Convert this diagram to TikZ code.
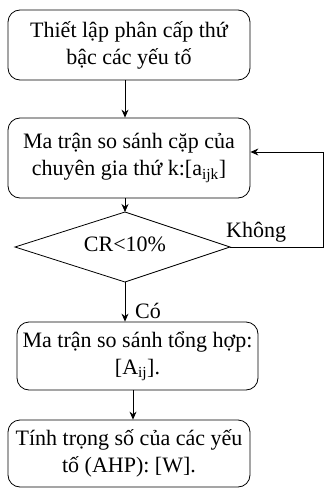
\documentclass[tikz,border=0pt]{standalone}
\usepackage{fontspec}
\setmainfont{Liberation Serif}
\usetikzlibrary{arrows.meta,shapes.geometric}
\begin{document}
\begin{tikzpicture}[x=1pt,y=-1pt,
  box/.style={draw,rounded corners=12pt,line width=0.8pt,align=center,inner sep=0pt,
    font=\fontsize{22}{27}\selectfont},
  arr/.style={-{Stealth[length=8pt,width=7pt]},line width=0.8pt},
  lbl/.style={font=\fontsize{22}{27}\selectfont,inner sep=0pt}]
\useasboundingbox (0,0) rectangle (324,489);
\node[box,minimum width=242pt,minimum height=70pt] (b1) at (129,45) {Thiết lập phân cấp thứ\\bậc các yếu tố};
\node[box,minimum width=242pt,minimum height=80pt] (b2) at (129,158) {Ma trận so sánh cặp của\\chuyên gia thứ k:[a\textsubscript{ijk}]};
\draw[line width=0.8pt] (125,212) coordinate (dt) -- (230,247) coordinate (dr) -- (125,282) coordinate (db) -- (15,247) coordinate (dl) -- cycle;
\node[lbl] (cr) at (125,244) {CR<10\%};
\node[box,minimum width=241pt,minimum height=68pt] (b3) at (137.5,356) {Ma trận so sánh tổng hợp:\\{}[A\textsubscript{ij}].};
\node[box,minimum width=242pt,minimum height=67pt] (b4) at (129,453.5) {Tính trọng số của các yếu\\tố (AHP): [W].};
\coordinate (c1) at (323,247);
\coordinate (c2) at (323,152);
\draw[arr] (dt |- b1.south) -- (dt |- b2.north);
\draw[arr] (dt |- b2.south) -- (dt);
\draw[arr] (dr) -- (c1) -- (c2) -- (c2 -| b2.east);
\node[lbl,anchor=south west] (khong) at (226,242) {Không};
\draw[arr] (db) -- (db |- b3.north);
\node[lbl,anchor=west] (co) at (135,311) {Có};
\coordinate (a3) at (133,0);
\draw[arr] (a3 |- b3.south) -- (a3 |- b4.north);
\end{tikzpicture}
\end{document}
